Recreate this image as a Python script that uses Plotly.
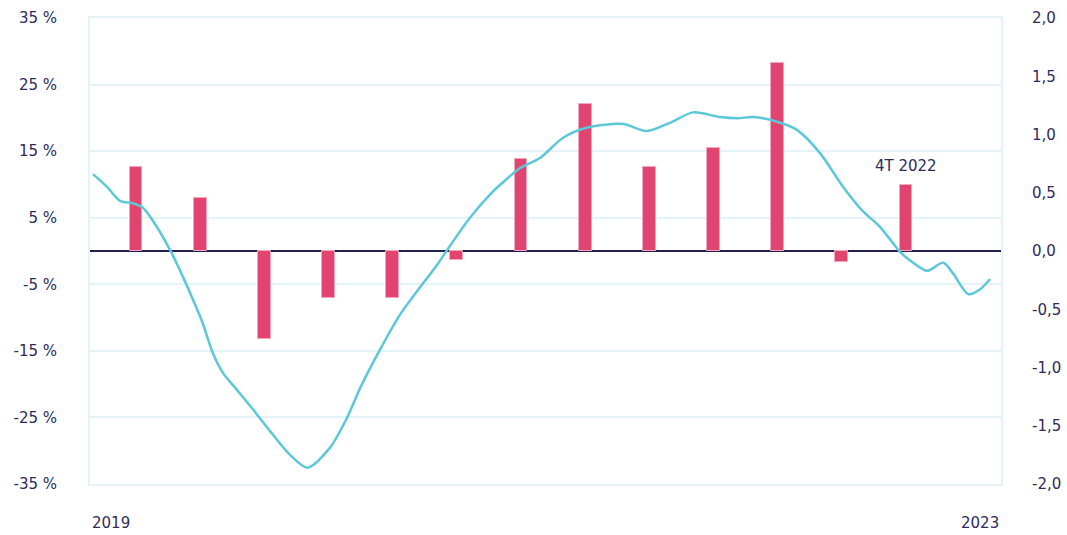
import plotly.graph_objects as go

# Bars: quarterly values (left axis, %)
bar_x = list(range(13))
bar_values = [12.6, 8.0, -13.2, -7.1, -7.1, -1.3, 13.8, 22.1, 12.6, 15.5, 28.2, -1.6, 9.9]

# Line: smooth series (right axis), x in bar-index units
line_x = [-0.67, -0.45, -0.25, -0.05, 0.11, 0.25, 0.53, 0.73, 0.89, 1.04, 1.20, 1.36, 1.57,
          1.81, 1.98, 2.40, 2.67, 3.02, 3.29, 3.49, 3.76, 4.11, 4.69, 4.85, 5.21, 5.56,
          5.72, 5.98, 6.30, 6.65, 7.03, 7.59, 7.96, 8.32, 8.68, 9.10, 9.37, 9.62, 9.99,
          10.30, 10.66, 11.02, 11.33, 11.59, 11.91, 12.11, 12.33, 12.58, 12.73, 12.97,
          13.15, 13.31]
line_y = [0.66, 0.55, 0.43, 0.41, 0.37, 0.27, 0.01, -0.22, -0.42, -0.62, -0.88, -1.05, -1.19,
          -1.35, -1.47, -1.75, -1.86, -1.69, -1.43, -1.18, -0.89, -0.55, -0.12, 0.01, 0.29, 0.51,
          0.59, 0.71, 0.80, 0.97, 1.06, 1.09, 1.03, 1.10, 1.19, 1.15, 1.14, 1.15, 1.11,
          1.04, 0.84, 0.55, 0.34, 0.21, -0.01, -0.10, -0.17, -0.10, -0.19, -0.37,
          -0.33, -0.24]

left_ticks = [-35, -25, -15, -5, 5, 15, 25, 35]
left_ticktext = [f"{v} %" for v in left_ticks]
right_ticks = [-2.0, -1.5, -1.0, -0.5, 0.0, 0.5, 1.0, 1.5, 2.0]
right_ticktext = [f"{v:.1f}".replace(".", ",") for v in right_ticks]
x_labels = ["2019", "2023"]
annot_text = "4T 2022"

TEXT = "#2e2b5c"
GRID = "#e4f3f7"
FONT = "DejaVu Sans"
FS = 15

fig = go.Figure()
fig.add_trace(go.Bar(x=bar_x, y=bar_values, width=0.2,
                     marker=dict(color="#e0446f", line=dict(color="#f2a7bd", width=1)),
                     yaxis="y", showlegend=False))
fig.add_trace(go.Scatter(x=line_x, y=line_y, mode="lines", yaxis="y2",
                         line=dict(color="#5bc8d8", width=2.5, shape="spline", smoothing=0.8),
                         showlegend=False))

fig.add_annotation(x=bar_x[-1], y=bar_values[-1], text=annot_text, showarrow=False,
                   yanchor="bottom", yshift=8, font=dict(family=FONT, size=FS, color=TEXT))
fig.add_annotation(x=0, y=0, xref="paper", yref="paper", text=x_labels[0], showarrow=False,
                   xanchor="left", yanchor="middle", yshift=-39,
                   font=dict(family=FONT, size=FS, color=TEXT))
fig.add_annotation(x=1, y=0, xref="paper", yref="paper", text=x_labels[1], showarrow=False,
                   xanchor="right", yanchor="middle", yshift=-39,
                   font=dict(family=FONT, size=FS, color=TEXT))

fig.update_layout(
    width=1067, height=535,
    margin=dict(l=90, r=66, t=18, b=51, autoexpand=False),
    plot_bgcolor="white", paper_bgcolor="white",
    font=dict(family=FONT, size=FS, color=TEXT),
    bargap=0,
    xaxis=dict(range=[-0.717, 13.48], showticklabels=False, showgrid=False, zeroline=False,
               showline=True, mirror=True, linecolor=GRID, linewidth=2, ticks=""),
    yaxis=dict(range=[-35, 35], tickvals=left_ticks, ticktext=left_ticktext,
               showgrid=True, gridcolor=GRID, gridwidth=2,
               zeroline=True, zerolinecolor="#22204f", zerolinewidth=2,
               showline=True, mirror=True, linecolor=GRID, linewidth=2,
               ticks="", ticklabelstandoff=28),
    yaxis2=dict(range=[-2, 2], tickvals=right_ticks, ticktext=right_ticktext,
                overlaying="y", side="right", showgrid=False, zeroline=False,
                showline=False, ticks="", ticklabelstandoff=30),
)

fig.write_html("out.html", config={"displayModeBar": False},
               post_script="document.body.style.margin='0';")
